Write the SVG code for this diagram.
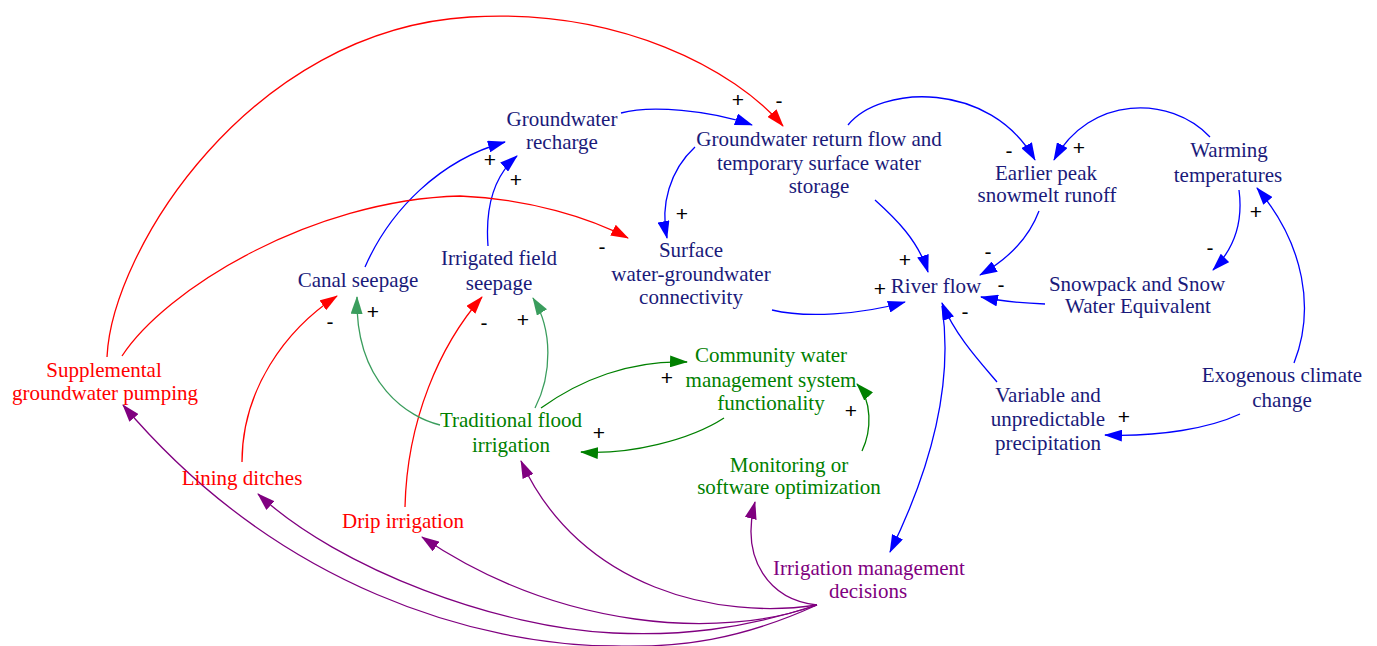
<svg xmlns="http://www.w3.org/2000/svg" width="1377" height="646" viewBox="0 0 1377 646">
<style>
text{font-family:"Liberation Serif","Times New Roman",serif;font-size:21px;text-anchor:middle}
.navy{fill:#1a1a7a}
.red{fill:#ff0000}
.grn{fill:#008000}
.pur{fill:#800080}
.pol{font-family:"Liberation Sans",Arial,sans-serif;font-size:21px;fill:#000}
path.c{fill:none;stroke-width:1.3}
.cb{stroke:#0000ff}
.cr{stroke:#ff0000}
.cs{stroke:#3a9d5d}
.cg{stroke:#008000}
.cp{stroke:#800080}
</style>
<defs>
<marker id="ab" markerUnits="userSpaceOnUse" markerWidth="18" markerHeight="12" refX="17" refY="6" orient="auto"><path d="M0,0 L18,6 L0,12 z" fill="#0000ff"/></marker>
<marker id="ar" markerUnits="userSpaceOnUse" markerWidth="18" markerHeight="12" refX="17" refY="6" orient="auto"><path d="M0,0 L18,6 L0,12 z" fill="#ff0000"/></marker>
<marker id="as" markerUnits="userSpaceOnUse" markerWidth="18" markerHeight="12" refX="17" refY="6" orient="auto"><path d="M0,0 L18,6 L0,12 z" fill="#3a9d5d"/></marker>
<marker id="ag" markerUnits="userSpaceOnUse" markerWidth="18" markerHeight="12" refX="17" refY="6" orient="auto"><path d="M0,0 L18,6 L0,12 z" fill="#008000"/></marker>
<marker id="ap" markerUnits="userSpaceOnUse" markerWidth="18" markerHeight="12" refX="17" refY="6" orient="auto"><path d="M0,0 L18,6 L0,12 z" fill="#800080"/></marker>
</defs>
<rect width="1377" height="646" fill="#ffffff"/>
<g id="connectors">
<path class="c cb" marker-end="url(#ab)" d="M365,267 C390,210 440,160 505,142"/>
<path class="c cb" marker-end="url(#ab)" d="M488,246 C485,205 495,175 517,156"/>
<path class="c cb" marker-end="url(#ab)" d="M621,113 C650,105 710,110 752,125"/>
<path class="c cb" marker-end="url(#ab)" d="M695,147 C670,170 660,205 667,238"/>
<path class="c cb" marker-end="url(#ab)" d="M875,200 C895,218 918,240 928,272"/>
<path class="c cb" marker-end="url(#ab)" d="M772,310 C805,318 860,315 905,302"/>
<path class="c cb" marker-end="url(#ab)" d="M848,125 C880,85 990,80 1035,160"/>
<path class="c cb" marker-end="url(#ab)" d="M1210,137 C1170,95 1090,95 1054,160"/>
<path class="c cb" marker-end="url(#ab)" d="M1039,211 C1030,235 1010,258 980,275"/>
<path class="c cb" marker-end="url(#ab)" d="M1239,190 C1243,220 1235,248 1213,270"/>
<path class="c cb" marker-end="url(#ab)" d="M1045,304 C1020,303 1000,301 981,297"/>
<path class="c cb" marker-end="url(#ab)" d="M1294,363 C1315,310 1305,245 1257,188"/>
<path class="c cb" marker-end="url(#ab)" d="M1240,414 C1210,428 1160,437 1105,435"/>
<path class="c cb" marker-end="url(#ab)" d="M997,382 C980,362 955,335 942,303"/>
<path class="c cb" marker-end="url(#ab)" d="M942,306 C950,360 945,440 890,552"/>
<path class="c cr" marker-end="url(#ar)" d="M107,357 C112,250 250,30 470,17 C620,8 735,70 783,126"/>
<path class="c cr" marker-end="url(#ar)" d="M122,356 C165,290 310,200 460,196 C530,199 590,218 628,238"/>
<path class="c cr" marker-end="url(#ar)" d="M242,462 C242,390 285,330 337,296"/>
<path class="c cr" marker-end="url(#ar)" d="M405,507 C407,420 440,345 482,297"/>
<path class="c cs" marker-end="url(#as)" d="M440,425 C410,418 355,385 357,297"/>
<path class="c cs" marker-end="url(#as)" d="M535,408 C552,375 553,330 533,298"/>
<path class="c cg" marker-end="url(#ag)" d="M541,408 C580,380 630,360 687,362"/>
<path class="c cg" marker-end="url(#ag)" d="M724,418 C690,440 630,455 581,452"/>
<path class="c cg" marker-end="url(#ag)" d="M862,451 C872,430 872,400 857,384"/>
<path class="c cp" marker-end="url(#ap)" d="M817,605 C740,640 680,648 613,646 C480,645 280,590 123,405"/>
<path class="c cp" marker-end="url(#ap)" d="M817,605 C740,630 680,636 613,633 C500,628 340,570 258,494"/>
<path class="c cp" marker-end="url(#ap)" d="M817,605 C720,640 560,630 422,537"/>
<path class="c cp" marker-end="url(#ap)" d="M817,605 C720,620 580,590 521,461"/>
<path class="c cp" marker-end="url(#ap)" d="M817,605 C770,600 740,560 755,502"/>
<g id="polarities">
<text class="pol" x="490" y="167">+</text>
<text class="pol" x="516" y="187">+</text>
<text class="pol" x="738" y="107">+</text>
<text class="pol" x="779" y="108">-</text>
<text class="pol" x="682" y="221">+</text>
<text class="pol" x="602" y="254">-</text>
<text class="pol" x="905" y="267">+</text>
<text class="pol" x="880" y="296">+</text>
<text class="pol" x="1009" y="158">-</text>
<text class="pol" x="1079" y="155">+</text>
<text class="pol" x="988" y="259">-</text>
<text class="pol" x="1001" y="292">-</text>
<text class="pol" x="965" y="319">-</text>
<text class="pol" x="1210" y="255">-</text>
<text class="pol" x="1256" y="219">+</text>
<text class="pol" x="1124" y="424">+</text>
<text class="pol" x="330" y="329">-</text>
<text class="pol" x="373" y="319">+</text>
<text class="pol" x="484" y="330">-</text>
<text class="pol" x="523" y="327">+</text>
<text class="pol" x="667" y="385">+</text>
<text class="pol" x="599" y="440">+</text>
<text class="pol" x="851" y="418">+</text>
</g>
</g>
<g id="groundwater-recharge"><text class="navy"><tspan x="562" y="126">Groundwater</tspan><tspan x="562" y="149">recharge</tspan></text></g>
<g id="groundwater-return-flow"><text class="navy"><tspan x="819" y="146">Groundwater return flow and</tspan><tspan x="819" y="170">temporary surface water</tspan><tspan x="819" y="193">storage</tspan></text></g>
<g id="earlier-peak"><text class="navy"><tspan x="1046" y="180">Earlier peak</tspan><tspan x="1047" y="202">snowmelt runoff</tspan></text></g>
<g id="warming"><text class="navy"><tspan x="1229" y="157">Warming</tspan><tspan x="1228" y="182">temperatures</tspan></text></g>
<g id="snowpack"><text class="navy"><tspan x="1137" y="291">Snowpack and Snow</tspan><tspan x="1138" y="313">Water Equivalent</tspan></text></g>
<g id="river-flow"><text class="navy" x="936" y="293">River flow</text></g>
<g id="surface-connectivity"><text class="navy"><tspan x="691" y="257">Surface</tspan><tspan x="691" y="281">water-groundwater</tspan><tspan x="691" y="304">connectivity</tspan></text></g>
<g id="canal-seepage"><text class="navy" x="358" y="287">Canal seepage</text></g>
<g id="irrigated-field-seepage"><text class="navy"><tspan x="499" y="265">Irrigated field</tspan><tspan x="499" y="290">seepage</tspan></text></g>
<g id="traditional-flood"><text class="grn"><tspan x="511" y="427">Traditional flood</tspan><tspan x="511" y="452">irrigation</tspan></text></g>
<g id="community"><text class="grn"><tspan x="771" y="362">Community water</tspan><tspan x="771" y="387">management system</tspan><tspan x="771" y="410">functionality</tspan></text></g>
<g id="monitoring"><text class="grn"><tspan x="789" y="472">Monitoring or</tspan><tspan x="789" y="494">software optimization</tspan></text></g>
<g id="irrigation-decisions"><text class="pur"><tspan x="869" y="575">Irrigation management</tspan><tspan x="868" y="598">decisions</tspan></text></g>
<g id="variable-precipitation"><text class="navy"><tspan x="1048" y="402">Variable and</tspan><tspan x="1048" y="426">unpredictable</tspan><tspan x="1048" y="450">precipitation</tspan></text></g>
<g id="exogenous-climate"><text class="navy"><tspan x="1282" y="382">Exogenous climate</tspan><tspan x="1282" y="407">change</tspan></text></g>
<g id="supplemental-pumping"><text class="red"><tspan x="104" y="377">Supplemental</tspan><tspan x="105" y="400">groundwater pumping</tspan></text></g>
<g id="lining-ditches"><text class="red" x="242" y="485">Lining ditches</text></g>
<g id="drip-irrigation"><text class="red" x="403" y="528">Drip irrigation</text></g>
</svg>
